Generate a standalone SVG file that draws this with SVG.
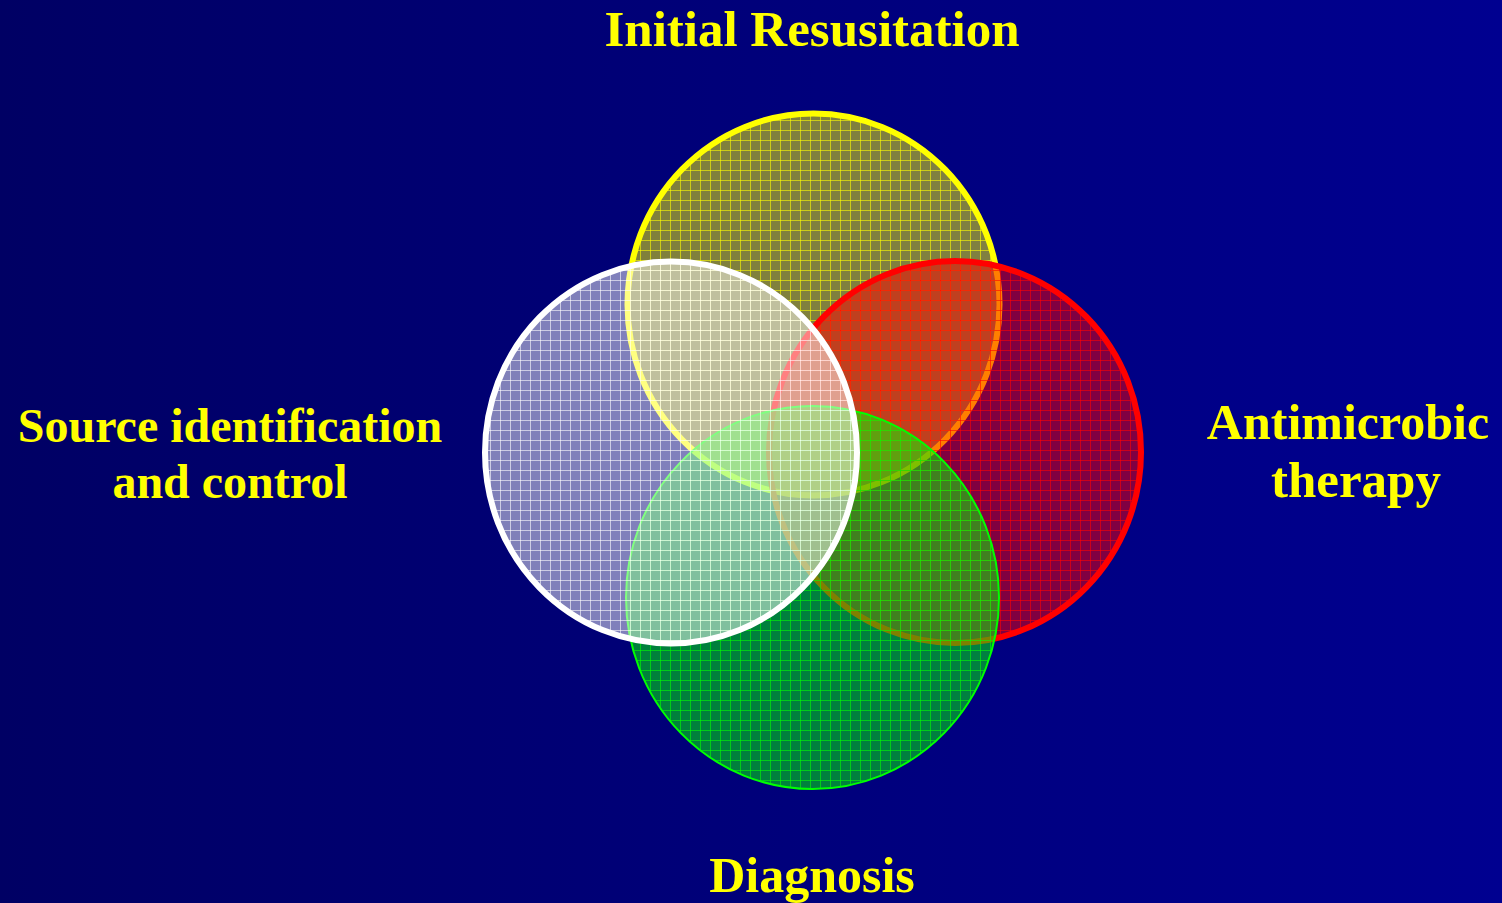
<svg xmlns="http://www.w3.org/2000/svg" width="1502" height="903" viewBox="0 0 1502 903">
<defs>
<linearGradient id="bg" x1="0" y1="0" x2="1" y2="0">
<stop offset="0" stop-color="#000064"/>
<stop offset="1" stop-color="#000090"/>
</linearGradient>
<pattern id="pY" patternUnits="userSpaceOnUse" width="10" height="10">
<rect width="10" height="10" fill="#ffff00" fill-opacity="0.5"/>
<path d="M0.5 0V10M0 0.5H10" stroke="#ffff00" stroke-opacity="0.6" stroke-width="1"/>
</pattern>
<pattern id="pR" patternUnits="userSpaceOnUse" width="10" height="10">
<rect width="10" height="10" fill="#ff0000" fill-opacity="0.5"/>
<path d="M0.5 0V10M0 0.5H10" stroke="#ff0000" stroke-opacity="0.6" stroke-width="1"/>
</pattern>
<pattern id="pG" patternUnits="userSpaceOnUse" width="10" height="10">
<rect width="10" height="10" fill="#00ff00" fill-opacity="0.5"/>
<path d="M0.5 0V10M0 0.5H10" stroke="#00ff00" stroke-opacity="0.6" stroke-width="1"/>
</pattern>
<pattern id="pW" patternUnits="userSpaceOnUse" width="10" height="10">
<rect width="10" height="10" fill="#ffffff" fill-opacity="0.5"/>
<path d="M0.5 0V10M0 0.5H10" stroke="#ffffff" stroke-opacity="0.6" stroke-width="1"/>
</pattern>
</defs>
<style>
.lbl { font-family: "Liberation Serif", "Times New Roman", serif; font-weight: bold; font-size: 48px; fill: #ffff00; text-anchor: middle; }
</style>
<rect width="1502" height="903" fill="url(#bg)"/>
<g id="connectors"/>
<g id="yellow-circle">
<ellipse cx="813.5" cy="304.5" rx="186" ry="191" fill="url(#pY)" stroke="#ffff00" stroke-width="6"/>
</g>
<g id="red-circle">
<ellipse cx="955" cy="452" rx="186" ry="191" fill="url(#pR)" stroke="#ff0000" stroke-width="6"/>
</g>
<g id="green-circle">
<ellipse cx="812.5" cy="597.5" rx="186.5" ry="191.5" fill="url(#pG)" stroke="#00ff00" stroke-width="2"/>
</g>
<g id="white-circle">
<ellipse cx="671" cy="452.5" rx="186" ry="191" fill="url(#pW)" stroke="#ffffff" stroke-width="6"/>
</g>
<g id="label-initial">
<text class="lbl" x="812" y="46" style="font-size:51px">Initial Resusitation</text>
</g>
<g id="label-source">
<text class="lbl" x="230" y="442">Source identification</text>
<text class="lbl" x="230" y="498">and control</text>
</g>
<g id="label-antimicrobic">
<text class="lbl" x="1348" y="439" style="font-size:50px">Antimicrobic</text>
<text class="lbl" x="1356" y="497" style="font-size:51px">therapy</text>
</g>
<g id="label-diagnosis">
<text class="lbl" x="812" y="892" style="font-size:50px">Diagnosis</text>
</g>
</svg>
